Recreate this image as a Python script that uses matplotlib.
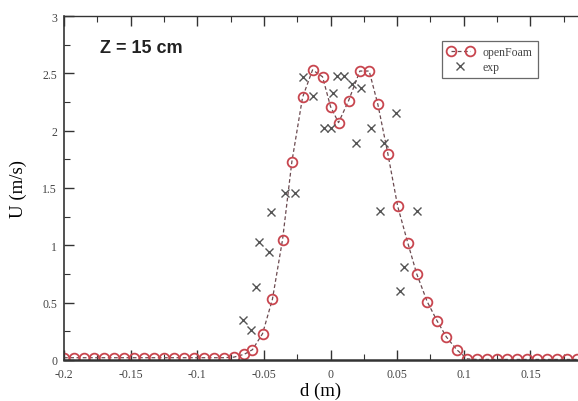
import matplotlib
matplotlib.use("Agg")
import matplotlib.pyplot as plt
from matplotlib.ticker import MultipleLocator, FuncFormatter
from matplotlib.legend_handler import HandlerLine2D

# openFoam simulation profile
foam_d = [-0.2, -0.1925, -0.185, -0.1775, -0.17, -0.1625, -0.155, -0.1475, -0.14,
          -0.1325, -0.125, -0.1175, -0.11, -0.1025, -0.095, -0.0875, -0.08, -0.0725,
          -0.0647, -0.0586, -0.051, -0.0436, -0.036, -0.029, -0.021, -0.0135, -0.006,
          0.0, 0.006, 0.0135, 0.022, 0.029, 0.0355, 0.043, 0.0504, 0.058, 0.0647,
          0.0725, 0.08, 0.087, 0.0947, 0.1025, 0.11, 0.1175, 0.125, 0.1325, 0.14,
          0.1475, 0.155, 0.1625, 0.17, 0.1775, 0.185]
foam_u = [0.02, 0.02, 0.02, 0.02, 0.02, 0.02, 0.02, 0.02, 0.02,
          0.02, 0.02, 0.02, 0.02, 0.02, 0.02, 0.02, 0.02, 0.025,
          0.05, 0.09, 0.23, 0.53, 1.05, 1.73, 2.29, 2.53, 2.47,
          2.21, 2.07, 2.26, 2.52, 2.52, 2.23, 1.80, 1.34, 1.02, 0.75,
          0.51, 0.34, 0.20, 0.09, 0.01, 0.005, 0.005, 0.005, 0.005, 0.005,
          0.005, 0.005, 0.005, 0.005, 0.005, 0.005]

# experimental points
exp_d = [-0.066, -0.060, -0.0556, -0.054, -0.046, -0.045, -0.034, -0.027, -0.021,
         -0.013, -0.005, 0.0, 0.002, 0.0045, 0.0098, 0.0158, 0.019, 0.023, 0.030,
         0.0368, 0.040, 0.049, 0.052, 0.055, 0.065]
exp_u = [0.35, 0.26, 0.64, 1.03, 0.94, 1.29, 1.46, 1.46, 2.47,
         2.30, 2.02, 2.02, 2.33, 2.48, 2.48, 2.41, 1.89, 2.37, 2.02,
         1.30, 1.89, 2.15, 0.60, 0.81, 1.30]

W, H = 578, 402
fig = plt.figure(figsize=(W / 100, H / 100), dpi=100)
left, bottom, top = 64 / W, (H - 361) / H, (H - 17) / H
ax = fig.add_axes([left, bottom, 1.0 - left, top - bottom])

foam_line, = ax.plot(foam_d, foam_u, linestyle=(0, (3, 2)), color="#6b4a50", linewidth=0.9,
                     marker="o", markersize=7, markerfacecolor="none",
                     markeredgecolor="#c8464f", markeredgewidth=1.3, label="openFoam")
exp_line, = ax.plot(exp_d, exp_u, linestyle="none", marker="x", markersize=6,
                    markeredgewidth=1.0, color="#555555", label="exp")

ax.set_xlim(-0.2, 0.1857)
ax.set_ylim(0, 3)
ax.xaxis.set_major_locator(MultipleLocator(0.05))
ax.xaxis.set_minor_locator(MultipleLocator(0.025))
ax.yaxis.set_major_locator(MultipleLocator(0.5))
ax.yaxis.set_minor_locator(MultipleLocator(0.25))


def fmt(v, pos):
    s = ("%.2f" % v).rstrip("0").rstrip(".")
    if s in ("-0", ""):
        s = "0"
    return s


ax.xaxis.set_major_formatter(FuncFormatter(fmt))
ax.yaxis.set_major_formatter(FuncFormatter(fmt))
ax.tick_params(which="both", direction="in", top=True, right=False,
               labelsize=8.5, colors="#333333", labelcolor="#444444")
ax.tick_params(which="major", length=7, width=1)
ax.tick_params(which="minor", length=4, width=0.8)
ax.tick_params(axis="x", which="major", pad=6)
ax.tick_params(axis="y", which="major", pad=5)
for lab in ax.get_xticklabels() + ax.get_yticklabels():
    lab.set_family("Liberation Serif")
ax.spines["right"].set_visible(False)
ax.spines["bottom"].set_linewidth(1.8)
ax.spines["left"].set_linewidth(1.2)
ax.spines["top"].set_linewidth(1.0)
for s in ax.spines.values():
    s.set_color("#333333")

ax.set_xlabel("d (m)", family="Liberation Serif", fontsize=13.5, labelpad=1)
ax.set_ylabel("U (m/s)", family="Liberation Serif", fontsize=13.5, labelpad=11)

ax.text(0.07, 0.895, "Z = 15 cm", transform=ax.transAxes, fontsize=13,
        fontweight="bold", family="Liberation Sans", color="#222222")

leg = ax.legend(loc="upper left", bbox_to_anchor=((436 - 64) / (W - 64), (361 - 36) / 344),
                prop={"family": "Liberation Serif", "size": 8.5},
                frameon=True, fancybox=False, edgecolor="#444444",
                handlelength=2.2, borderpad=0.45, labelspacing=0.25,
                handler_map={foam_line: HandlerLine2D(numpoints=2),
                             exp_line: HandlerLine2D(numpoints=1)})
leg.get_frame().set_linewidth(0.9)
for t in leg.get_texts():
    t.set_color("#444444")

fig.savefig("out.png", dpi=100)
